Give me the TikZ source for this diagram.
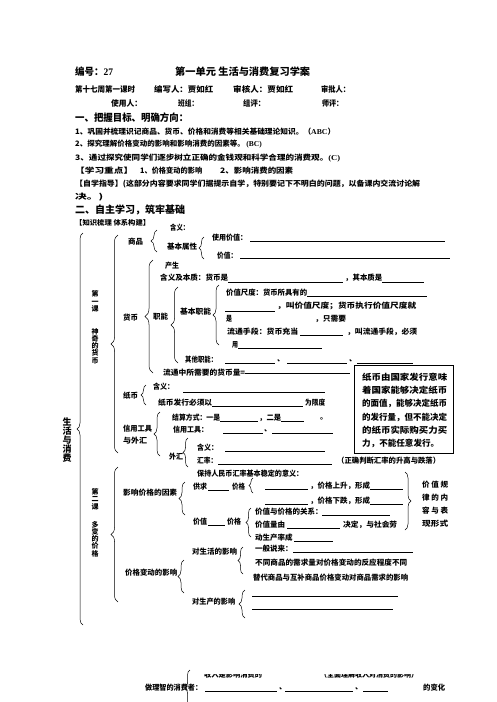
\documentclass[tikz,border=0pt]{standalone}
\usepackage{fontspec}
\setmainfont{Noto Sans CJK SC}
\newfontfamily\lat{Liberation Serif}
\usetikzlibrary{decorations.pathreplacing}
\tikzset{
 tt/.style={anchor=west,inner sep=0pt,font=\bfseries},
 ul/.style={line width=0.6pt},
 thinul/.style={line width=0.4pt},
 lb/.style={decorate,decoration={brace,amplitude=#1pt},line width=0.5pt},
 vt/.style={inner sep=0pt,align=center,font=\bfseries\fontsize{7}{7.3}\selectfont},
 vtb/.style={inner sep=0pt,align=center,font=\bfseries\fontsize{9}{9}\selectfont},
 boxed/.style={draw,line width=0.8pt},
}
\def\fs{7.5}
\newcommand\tx[6]{\node[tt] (#1) at (#2,#3) {\fontsize{#5}{#5}\selectfont\resizebox{#4pt}{\height}{#6}};}
\newcommand\tn[5]{\node[tt] (#1) at (#2,#3) {\fontsize{#4}{#4}\selectfont #5};}
\begin{document}
\begin{tikzpicture}[x=1pt,y=-1pt]
\useasboundingbox (0,0) rectangle (496,702);
\fill[white] (0,0) rectangle (496,702);
\begin{scope}
\clip (0,0) rectangle (496,702);
% header
\tx{h1}{75}{72}{38}{10}{编号：{\lat\bfseries 27}}
\tx{h2}{175}{72}{135}{10}{第一单元 生活与消费复习学案}
\tx{h3}{75}{89}{60}{8}{第十七周第一课时}
\tx{h4}{154}{89}{59}{8}{编写人：贾如红}
\tx{h5}{233}{89}{60}{8}{审核人：贾如红}
\tx{h6}{321}{89}{29}{8}{审批人：}
\tx{h7}{111}{103}{31}{8}{使用人：}
\tx{h8}{178}{103}{20}{8}{班组：}
\tx{h9}{243}{103}{22}{8}{组评：}
\tx{h10}{322}{103}{21}{8}{师评：}
\tx{h11}{75}{118}{113}{10}{一、把握目标、明确方向：}
\tx{o1}{75}{132}{260}{7.5}{1、巩固并梳理识记商品、货币、价格和消费等相关基础理论知识。（{\lat\bfseries ABC}）}
\tn{o2}{75}{144}{7.5}{2、探究理解价格变动的影响和影响消费的因素等。 {\lat\bfseries (BC)}}
\tx{o3}{75}{158}{265}{7.5}{3、通过探究使同学们逐步树立正确的金钱观和科学合理的消费观。{\lat\bfseries (C)}}
\tx{o4}{75}{171}{58}{7.5}{【学习重点】}
\tx{o5}{140}{171}{62}{7.5}{1、价格变动的影响}
\tx{o6}{220}{171}{73}{7.5}{2、影响消费的因素}
\tx{o7}{75}{184}{345}{7.5}{【自学指导】(这部分内容要求同学们据提示自学，特别要记下不明白的问题，以备课内交流讨论解}
\tx{o8}{75}{197}{28}{7.5}{决。)}
\tx{h12}{75}{210}{110}{10}{二、自主学习，筑牢基础}
\tx{h13}{75}{223}{75}{7}{【知识梳理 体系构建】}
% braces
\draw[lb=6] (83,625) -- (83,233);
\draw[lb=7] (118,453) -- (118,235);
\draw[lb=7] (118,602) -- (118,467);
\draw[lb=6] (157,252) -- (157,230);
\draw[lb=5] (204,259) -- (204,237);
\draw[lb=8] (153,373) -- (153,260);
\draw[lb=7] (178,363) -- (178,287);
\draw[lb=6] (219,345) -- (219,285);
\draw[lb=5] (146,405) -- (146,385);
\draw[lb=6] (160,456) -- (160,412);
\draw[lb=5] (188,467) -- (188,438);
\draw[lb=6] (185,515) -- (185,482);
\draw[lb=4] (253,493) -- (253,478);
\draw[lb=5] (251,537) -- (251,508);
\draw[lb=6] (405,472) -- (405,530);
\draw[lb=5] (243,574) -- (243,547);
\draw[lb=6] (184,593) -- (184,560);
\draw[lb=6] (245,618) -- (245,590);
\draw[lb=5] (190,706) -- (190,670);
% vertical texts
\node[vtb] (v5) at (67,440) {生\\活\\与\\消\\费};
\node[vt] (v1) at (95,301.5) {第\\一\\课};
\node[vt] (v2) at (95,346) {神\\奇\\的\\货\\币};
\node[vt] (v3) at (95,499) {第\\二\\课};
\node[vt] (v4) at (95,539) {多\\变\\的\\价\\格};
% lesson 1
\tx{a1}{170}{228}{19}{\fs}{含义：}
\tx{a2}{128}{242}{15}{\fs}{商品}
\tx{a3}{167}{247}{30}{\fs}{基本属性}
\tx{a4}{212}{238}{35}{\fs}{使用价值：}
\draw[ul] (250,241) -- (445,241);
\tx{a5}{217}{256}{20}{\fs}{价值：}
\draw[ul] (240,258) -- (450,258);
\tx{a6}{165}{266}{14}{\fs}{产生}
\tx{a7}{160}{278}{68}{\fs}{含义及本质：货币是}
\draw[ul] (228,282) -- (343,282);
\tx{a8}{345}{278}{37}{\fs}{，其本质是}
\draw[ul] (382,282) -- (424,282);
\tx{a21}{123}{318}{15}{\fs}{货币}
\tx{a19}{153}{317}{15}{\fs}{职能}
\tx{a20}{180}{312}{31}{\fs}{基本职能}
\tx{a9}{226}{293}{81}{\fs}{价值尺度：货币所具有的}
\draw[ul] (307,296) -- (427,296);
\draw[ul] (225,311) -- (275,311);
\tx{a10}{277}{306}{139}{\fs}{，叫价值尺度；货币执行价值尺度就}
\tx{a11}{226}{319}{6}{\fs}{是}
\tx{a12}{315}{319}{31}{\fs}{，只需要}
\tx{a13}{227}{332}{71}{\fs}{流通手段：货币充当}
\draw[ul] (300,335) -- (343,335);
\tx{a14}{347}{332}{70}{\fs}{，叫流通手段，必须}
\tx{a15}{232}{345}{6}{\fs}{用}
\draw[ul] (238,348) -- (322,348);
\tx{a16}{185}{360}{32}{\fs}{其他职能：}
\draw[ul] (225,363) -- (275,363);
\tn{a17}{277}{361}{\fs}{、}
\draw[ul] (287,363) -- (347,363);
\tn{a18}{349}{361}{\fs}{、}
\draw[ul] (357,363) -- (413,363);
\tx{a22}{163}{373}{82}{\fs}{流通中所需要的货币量=}
\draw[ul] (245,373) -- (350,373);
\tx{a23}{123}{396}{15}{\fs}{纸币}
\tx{a24}{153}{387}{21}{\fs}{含义：}
\draw[ul] (183,392) -- (325,392);
\tx{a25}{158}{403}{54}{\fs}{纸币发行必须以}
\draw[ul] (212,406) -- (303,406);
\tx{a26}{305}{403}{20}{\fs}{为限度}
\tx{a27}{123}{429}{29}{\fs}{信用工具}
\tx{a28}{123}{441}{24}{\fs}{与外汇}
\tx{a29}{172}{418}{48}{\fs}{结算方式：一是}
\draw[thinul] (220,421) -- (258,421);
\tx{a30}{259}{418}{22}{\fs}{，二是}
\draw[thinul] (281,421) -- (304,421);
\tn{a31}{320}{419}{\fs}{。}
\tx{a32}{173}{430}{35}{\fs}{信用工具：}
\draw[ul] (223,433) -- (263,433);
\tn{a33}{264}{431}{\fs}{、}
\draw[ul] (272,433) -- (333,433);
\tx{a34}{169}{457}{14}{\fs}{外汇}
\tx{a35}{197}{448}{21}{\fs}{含义：}
\draw[ul] (225,451) -- (325,451);
\tx{a36}{197}{461}{20}{\fs}{汇率：}
\draw[ul] (218,464) -- (332,464);
\tx{a37}{337}{461}{103}{\fs}{（正确判断汇率的升高与跌落）}
\tx{a38}{197}{474}{106}{\fs}{保持人民币汇率基本稳定的意义：}
% box
\draw[boxed] (354,365) rectangle (453,453);
\tx{b1}{362}{377}{85}{8.5}{纸币由国家发行意味}
\tx{b2}{362}{390}{85}{8.5}{着国家能够决定纸币}
\tx{b3}{362}{403}{85}{8.5}{的面值，能够决定纸币}
\tx{b4}{362}{417}{85}{8.5}{的发行量，但不能决定}
\tx{b5}{362}{430}{85}{8.5}{的纸币实际购买力买}
\tx{b6}{362}{443}{77}{8.5}{力，不能任意发行。}
% lesson 2
\tx{a39}{123}{493}{54}{\fs}{影响价格的因素}
\tx{a40}{193}{487}{14}{\fs}{供求}
\draw[ul] (208,490) -- (229,490);
\tx{a41}{232}{487}{13}{\fs}{价格}
\draw[ul] (265,489) -- (308,489);
\tx{a42}{310}{486}{60}{\fs}{，价格上升，形成}
\draw[ul] (370,489) -- (403,489);
\draw[ul] (265,504) -- (308,504);
\tx{a43}{310}{501}{60}{\fs}{，价格下跌，形成}
\draw[ul] (370,504) -- (403,504);
\tx{a44}{422}{485}{26}{\fs}{价 值 规}
\tx{a45}{422}{498}{26}{\fs}{律 的 内}
\tx{a46}{422}{511}{26}{\fs}{容 与 表}
\tx{a47}{422}{524}{26}{\fs}{现形式}
\tx{a48}{193}{522}{14}{\fs}{价值}
\draw[ul] (208,525) -- (225,525);
\tx{a49}{227}{522}{14}{\fs}{价格}
\tn{a50}{255}{512}{\fs}{价值与价格的关系：}
\draw[ul] (322,515) -- (390,515);
\tn{a51}{255}{525}{\fs}{价值量由}
\draw[ul] (287,528) -- (340,528);
\tx{a52}{343}{525}{54}{\fs}{决定，与社会劳}
\tn{a53}{255}{538}{\fs}{动生产率成}
\draw[ul] (294,541) -- (333,541);
\tx{a54}{192}{552}{45}{\fs}{对生活的影响}
\tn{a55}{255}{549}{\fs}{一般说来：}
\draw[ul] (293,552) -- (413,552);
\tx{a56}{255}{563}{152}{\fs}{不同商品的需求量对价格变动的反应程度不同}
\tx{a57}{253}{578}{155}{\fs}{替代商品与互补商品价格变动对商品需求的影响}
\tx{a58}{125}{573}{52}{\fs}{价格变动的影响}
\tx{a59}{192}{602}{43}{\fs}{对生产的影响}
\draw[ul] (252,596) -- (398,596);
\draw[ul] (252,609) -- (393,609);
% bottom
\tx{a60}{145}{688}{57}{\fs}{做理智的消费者：}
\draw[ul] (205,691) -- (277,691);
\tn{a61}{279}{689}{\fs}{、}
\draw[ul] (285,691) -- (353,691);
\tn{a62}{355}{689}{\fs}{、}
\draw[ul] (363,691) -- (388,691);
\tx{a63}{423}{688}{22}{\fs}{的变化}
\begin{scope}
\clip (0,674.5) rectangle (496,702);
\tx{a64}{204}{675}{58}{\fs}{收入是影响消费的}
\tx{a65}{320}{675}{98}{\fs}{（全面理解收入对消费的影响）}
\end{scope}
\end{scope}
\end{tikzpicture}
\end{document}
